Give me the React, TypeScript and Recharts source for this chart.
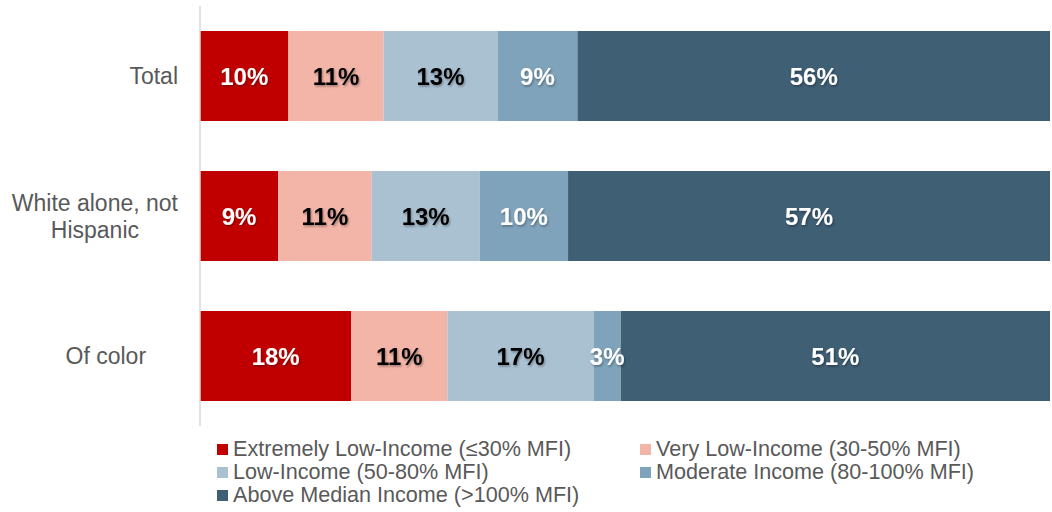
import { Bar, BarChart, LabelList, XAxis, YAxis } from "recharts"

const categories = ["Total", "White alone, not\nHispanic", "Of color\u00a0\u00a0\u00a0\u00a0\u00a0"]
const extremelyLow = [10.4, 9.2, 17.8]
const veryLow = [11.2, 11.0, 11.3]
const lowIncome = [13.4, 12.7, 17.2]
const moderate = [9.4, 10.4, 3.2]
const aboveMedian = [55.6, 56.7, 50.5]

const series = [
  { key: "extremelyLow", name: "Extremely Low-Income (\u226430% MFI)", color: "#c00000", text: "#ffffff" },
  { key: "veryLow", name: "Very Low-Income (30-50% MFI)", color: "#f3b5a8", text: "#000000" },
  { key: "lowIncome", name: "Low-Income (50-80% MFI)", color: "#aac1d2", text: "#000000" },
  { key: "moderate", name: "Moderate Income (80-100% MFI)", color: "#7fa3bb", text: "#ffffff" },
  { key: "aboveMedian", name: "Above Median Income (>100% MFI)", color: "#3f5f75", text: "#ffffff" },
]

const data = categories.map((name, i) => ({
  name,
  extremelyLow: extremelyLow[i],
  veryLow: veryLow[i],
  lowIncome: lowIncome[i],
  moderate: moderate[i],
  aboveMedian: aboveMedian[i],
}))

const FONT = '"Liberation Sans", Arial, sans-serif'

let ctx: CanvasRenderingContext2D | null = null
function measure(text: string, size: number) {
  if (!ctx) ctx = document.createElement("canvas").getContext("2d")
  if (!ctx) return text.length * size * 0.5
  ctx.font = `${size}px ${FONT}`
  return ctx.measureText(text).width
}

function CategoryTick(props: any) {
  const { x, y, payload } = props
  const lines = String(payload.value).split("\n")
  const size = 23
  const right = x - 14
  const maxW = Math.max(...lines.map((l) => measure(l, size)))
  const cx = right - maxW / 2
  const lh = 27
  const startY = y - ((lines.length - 1) * lh) / 2
  return (
    <text textAnchor="middle" fill="#595959" fontSize={size} fontFamily={FONT}>
      {lines.map((l, i) => (
        <tspan key={i} x={cx} y={startY + i * lh} dy="0.35em">
          {l}
        </tspan>
      ))}
    </text>
  )
}

function makeLabel(color: string) {
  return (props: any) => {
    const { x, y, width, height, value } = props
    return (
      <text
        x={x + width / 2}
        y={y + height / 2}
        dy="0.36em"
        textAnchor="middle"
        fill={color}
        fontSize={24}
        fontWeight="bold"
        fontFamily={FONT}
        filter="url(#lblShadow)"
      >
        {Math.round(value)}%
      </text>
    )
  }
}

export default function App() {
  return (
    <div style={{ position: "absolute", left: 0, top: 0, width: 1052, height: 512, background: "#fff", fontFamily: FONT }}>
      <BarChart
        width={1052}
        height={430}
        layout="vertical"
        data={data}
        margin={{ top: 6, right: 2, left: 0, bottom: 4 }}
      >
        <defs>
          <filter id="lblShadow" x="-20%" y="-20%" width="140%" height="140%">
            <feDropShadow dx="1" dy="1.5" stdDeviation="1" floodColor="#000" floodOpacity="0.35" />
          </filter>
        </defs>
        <XAxis type="number" domain={[0, 100]} hide />
        <YAxis
          type="category"
          dataKey="name"
          width={200}
          axisLine={{ stroke: "#d9d9d9", strokeWidth: 1.5 }}
          tickLine={false}
          tick={<CategoryTick />}
          interval={0}
        />
        {series.map((s) => (
          <Bar key={s.key} dataKey={s.key} stackId="a" fill={s.color} barSize={90} isAnimationActive={false}>
            <LabelList dataKey={s.key} content={makeLabel(s.text)} />
          </Bar>
        ))}
      </BarChart>
      <div style={{ position: "absolute", left: 0, top: 0 }}>
        {series.map((s, i) => {
          const col = i % 2
          const row = Math.floor(i / 2)
          const left = col === 0 ? 217 : 640
          const top = 449 + row * 23
          return (
            <div
              key={s.key}
              style={{ position: "absolute", left, top: top - 12, height: 24, display: "flex", alignItems: "center", whiteSpace: "nowrap" }}
            >
              <span style={{ display: "inline-block", width: 11, height: 11, background: s.color, marginRight: 5 }} />
              <span style={{ fontSize: 21.6, color: "#595959", lineHeight: "24px" }}>{s.name}</span>
            </div>
          )
        })}
      </div>
    </div>
  )
}
